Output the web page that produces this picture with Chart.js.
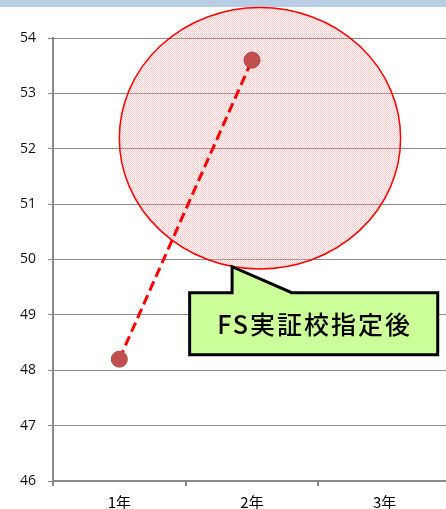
<!DOCTYPE html>
<html>
<head>
<meta charset="utf-8">
<script src="https://cdn.jsdelivr.net/npm/chart.js@4/dist/chart.umd.min.js"></script>
<style>
  html, body { margin: 0; padding: 0; background: #fff; overflow: hidden; width: 446px; height: 509px; }
  #band { position: absolute; left: 0; top: 0; width: 446px; height: 7px; background: #b9cde5; }
  #wrap { position: absolute; left: 0; top: 0; width: 460px; height: 530px; }
</style>
</head>
<body>
<div id="band"></div>
<div id="wrap"><canvas id="c" width="460" height="530"></canvas></div>
<script>
// School years on the x axis
const years = ['1年', '2年', '3年'];
// Average score per year (no value yet for the third year)
const scores = [48.2, 53.6, null];
// Vertical axis range and step
const yMin = 46;
const yMax = 54;
const yStep = 1;
// Callout text
const calloutText = 'FS実証校指定後';

// Highlight ellipse, given in axis units (category index / score)
const highlight = { cx: 1.06, cy: 52.19, rx: 1.06, ry: 2.36 };
// Callout box and pointer tip, in axis units
const callout = { x0: 0.53, x1: 2.4, yTop: 49.4, yBot: 48.28, tipX: 0.85, tipY: 49.87, baseX0: 0.85, baseX1: 1.3 };

// Fine pink dot texture used inside the ellipse
function makePattern(ctx) {
  const p = document.createElement('canvas');
  p.width = 4; p.height = 4;
  const g = p.getContext('2d');
  const pink = 'rgba(255,150,150,0.45)';
  const pale = 'rgba(255,170,170,0.3)';
  for (let i = 0; i < 4; i++) {
    for (let j = 0; j < 4; j++) {
      if ((i + j) % 2 === 0) { g.fillStyle = pink; g.fillRect(i, j, 1, 1); }
      else if (i % 2 === 0) { g.fillStyle = pale; g.fillRect(i, j, 1, 1); }
    }
  }
  return ctx.createPattern(p, 'repeat');
}

const highlightPlugin = {
  id: 'highlightEllipse',
  beforeDatasetsDraw(chart) {
    const { ctx, scales: { x, y } } = chart;
    const cx = x.getPixelForValue(highlight.cx);
    const cy = y.getPixelForValue(highlight.cy);
    const rx = x.getPixelForValue(highlight.cx + highlight.rx) - cx;
    const ry = cy - y.getPixelForValue(highlight.cy + highlight.ry);
    ctx.save();
    ctx.beginPath();
    ctx.ellipse(cx, cy, rx, ry, 0, 0, Math.PI * 2);
    ctx.fillStyle = makePattern(ctx);
    ctx.fill();
    ctx.lineWidth = 1.5;
    ctx.strokeStyle = '#ff0000';
    ctx.stroke();
    ctx.restore();
  }
};

const calloutPlugin = {
  id: 'callout',
  afterDraw(chart) {
    const { ctx, scales: { x, y } } = chart;
    const L = x.getPixelForValue(callout.x0);
    const R = x.getPixelForValue(callout.x1);
    const T = y.getPixelForValue(callout.yTop);
    const B = y.getPixelForValue(callout.yBot);
    const tx = x.getPixelForValue(callout.tipX);
    const ty = y.getPixelForValue(callout.tipY);
    const b0 = x.getPixelForValue(callout.baseX0);
    const b1 = x.getPixelForValue(callout.baseX1);
    ctx.save();
    ctx.beginPath();
    ctx.moveTo(L, T);
    ctx.lineTo(b0, T);
    ctx.lineTo(tx, ty);
    ctx.lineTo(b1, T);
    ctx.lineTo(R, T);
    ctx.lineTo(R, B);
    ctx.lineTo(L, B);
    ctx.closePath();
    ctx.fillStyle = '#ccff99';
    ctx.fill();
    ctx.lineWidth = 3;
    ctx.lineJoin = 'miter';
    ctx.strokeStyle = '#000';
    ctx.stroke();
    ctx.fillStyle = '#000';
    ctx.font = '500 25px "Noto Sans CJK JP"';
    ctx.letterSpacing = '2px';
    ctx.textAlign = 'center';
    ctx.textBaseline = 'middle';
    ctx.fillText(calloutText, (L + R) / 2 + 1, (T + B) / 2 + 1);
    ctx.restore();
  }
};

new Chart(document.getElementById('c'), {
  type: 'line',
  data: {
    labels: years,
    datasets: [{
      data: scores,
      borderColor: '#ff0000',
      borderWidth: 3,
      borderDash: [10, 5],
      pointRadius: 8,
      pointBackgroundColor: '#c0504d',
      pointBorderColor: '#b8433f',
      pointBorderWidth: 1,
      tension: 0
    }]
  },
  options: {
    responsive: false,
    animation: false,
    devicePixelRatio: 1,
    layout: { padding: { top: 38, right: 7, left: 0, bottom: 0 } },
    plugins: { legend: { display: false }, tooltip: { enabled: false } },
    scales: {
      x: {
        offset: true,
        grid: { offset: true, drawOnChartArea: false, drawTicks: true, tickLength: 5, color: '#8a8a8a', lineWidth: 2 },
        border: { color: '#8a8a8a', width: 2 },
        ticks: { color: '#000', padding: 7, font: { family: '"Noto Sans CJK JP"', size: 15 } },
        afterFit(s) { s.height = 49; }
      },
      y: {
        min: yMin, max: yMax,
        ticks: { stepSize: yStep, color: '#111', padding: 12, font: { family: '"Open Sans"', size: 14 } },
        grid: { color: '#8c8c8c', lineWidth: 1, tickLength: 5 },
        border: { color: '#8a8a8a', width: 2 },
        afterFit(s) { s.width = 53; }
      }
    }
  },
  plugins: [highlightPlugin, calloutPlugin]
});
</script>
</body>
</html>
